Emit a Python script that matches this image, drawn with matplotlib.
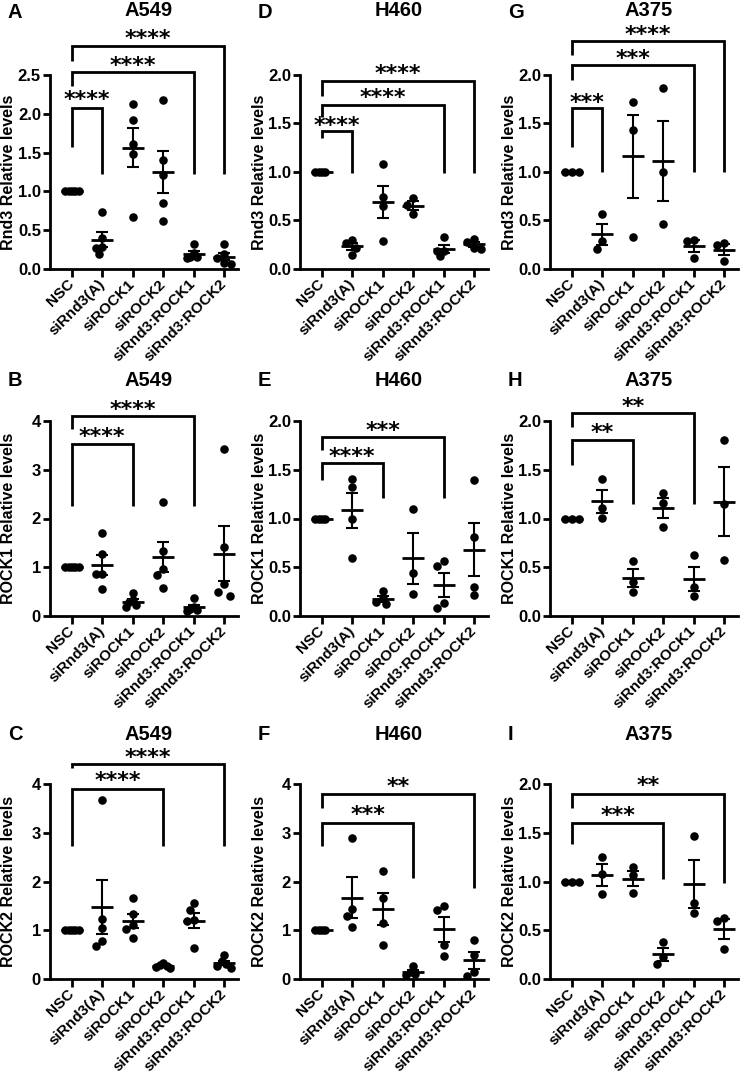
import numpy as np
import matplotlib
matplotlib.use("Agg")
import matplotlib.pyplot as plt

plt.rcParams['font.family'] = ['Liberation Sans', 'DejaVu Sans']
plt.rcParams['font.weight'] = 'bold'

categories = ["NSC", "siRnd3(A)", "siROCK1", "siROCK2", "siRnd3:ROCK1", "siRnd3:ROCK2"]

# ---- data (relative levels, one list per group) ----
A_rnd3_a549 = [[1, 1, 1, 1, 1], [0.74, 0.40, 0.28, 0.27, 0.19], [2.13, 1.92, 1.61, 1.48, 0.67],
               [2.18, 1.40, 1.21, 0.85, 0.62], [0.32, 0.20, 0.16, 0.15, 0.14], [0.32, 0.19, 0.14, 0.08, 0.07]]
D_rnd3_h460 = [[1, 1, 1, 1], [0.30, 0.27, 0.22, 0.14], [1.08, 0.74, 0.65, 0.29],
               [0.73, 0.66, 0.57], [0.33, 0.19, 0.19, 0.13], [0.31, 0.28, 0.22, 0.21]]
G_rnd3_a375 = [[1, 1, 1], [0.57, 0.29, 0.21], [1.72, 1.43, 0.33],
               [1.87, 1.00, 0.46], [0.30, 0.29, 0.11], [0.27, 0.245, 0.085]]
B_rock1_a549 = [[1, 1, 1, 1, 1], [1.70, 1.27, 0.86, 0.86, 0.55], [0.48, 0.32, 0.28, 0.22, 0.18],
                [2.33, 1.34, 0.97, 0.84, 0.57], [0.36, 0.18, 0.14, 0.12, 0.10], [3.42, 1.42, 0.65, 0.50, 0.41]]
E_rock1_h460 = [[1, 1, 1, 1], [1.41, 1.32, 1.00, 0.60], [0.26, 0.18, 0.14, 0.12],
                [1.10, 0.44, 0.23], [0.56, 0.51, 0.13, 0.08], [1.39, 0.81, 0.30, 0.22]]
H_rock1_a375 = [[1, 1, 1], [1.405, 1.11, 1.01], [0.56, 0.35, 0.25],
                [1.26, 1.16, 0.91], [0.63, 0.30, 0.21], [1.80, 1.145, 0.576]]
C_rock2_a549 = [[1, 1, 1, 1, 1], [3.67, 1.23, 1.04, 0.78, 0.68], [1.66, 1.33, 1.10, 1.02, 0.84],
                [0.33, 0.29, 0.27, 0.24, 0.22], [1.56, 1.41, 1.21, 1.18, 0.64], [0.50, 0.36, 0.30, 0.27, 0.22]]
F_rock2_h460 = [[1, 1, 1, 1], [2.90, 1.43, 1.29, 1.06], [2.22, 1.66, 1.14, 0.70],
                [0.27, 0.15, 0.10, 0.08], [1.50, 1.41, 0.70, 0.48], [0.80, 0.50, 0.15, 0.07]]
I_rock2_a375 = [[1, 1, 1], [1.25, 1.08, 0.87], [1.145, 1.065, 0.88],
                [0.38, 0.23, 0.15], [1.47, 0.78, 0.68], [0.625, 0.60, 0.31]]

# significance brackets: (group1, group2, y_top, y_left_end, y_right_end, label, y_label)
A_sig = [(0, 1, 2.08, 1.57, 1.23, '****', 2.26), (0, 4, 2.54, 2.36, 1.23, '****', 2.69),
         (0, 5, 2.88, 2.68, 1.23, '****', 3.04)]
D_sig = [(0, 1, 1.425, 1.35, 0.99, '****', 1.54), (0, 4, 1.69, 1.57, 0.99, '****', 1.83),
         (0, 5, 1.94, 1.78, 0.99, '****', 2.07)]
G_sig = [(0, 1, 1.66, 1.26, 1.0, '***', 1.78), (0, 4, 2.10, 1.95, 1.0, '***', 2.23),
         (0, 5, 2.35, 2.21, 1.0, '****', 2.48)]
B_sig = [(0, 2, 3.53, 2.26, 2.26, '****', 3.79), (0, 4, 4.11, 3.84, 2.26, '****', 4.35)]
E_sig = [(0, 2, 1.565, 1.40, 1.21, '****', 1.69), (0, 4, 1.84, 1.70, 1.21, '***', 1.96)]
H_sig = [(0, 2, 1.80, 1.55, 1.15, '**', 1.94), (0, 4, 2.085, 1.94, 1.15, '**', 2.21)]
C_sig = [(0, 3, 3.90, 2.73, 2.73, '****', 4.19), (0, 5, 4.41, 4.32, 2.73, '****', 4.66)]
F_sig = [(0, 3, 3.21, 2.73, 2.07, '***', 3.49), (0, 5, 3.79, 3.50, 1.86, '**', 4.07)]
I_sig = [(0, 3, 1.595, 1.38, 1.03, '***', 1.74), (0, 5, 1.90, 1.75, 0.98, '**', 2.04)]

panels = [
    # letter, title, ylabel, ymax, step, data, sig, col, row
    ("A", "A549", "Rnd3 Relative levels", 2.5, 0.5, A_rnd3_a549, A_sig, 0, 0),
    ("D", "H460", "Rnd3 Relative levels", 2.0, 0.5, D_rnd3_h460, D_sig, 1, 0),
    ("G", "A375", "Rnd3 Relative levels", 2.0, 0.5, G_rnd3_a375, G_sig, 2, 0),
    ("B", "A549", "ROCK1 Relative levels", 4, 1, B_rock1_a549, B_sig, 0, 1),
    ("E", "H460", "ROCK1 Relative levels", 2.0, 0.5, E_rock1_h460, E_sig, 1, 1),
    ("H", "A375", "ROCK1 Relative levels", 2.0, 0.5, H_rock1_a375, H_sig, 2, 1),
    ("C", "A549", "ROCK2 Relative levels", 4, 1, C_rock2_a549, C_sig, 0, 2),
    ("F", "H460", "ROCK2 Relative levels", 4, 1, F_rock2_h460, F_sig, 1, 2),
    ("I", "A375", "ROCK2 Relative levels", 2.0, 0.5, I_rock2_a375, I_sig, 2, 2),
]

W, H = 750, 1075
fig = plt.figure(figsize=(W / 100, H / 100), dpi=100)

col_left = [50, 300, 550]
ax_w = 188
row_tb = [(75, 269), (421, 616), (784, 979)]
title_y = [11, 380, 734]
LW = 2.0


def swarm_offsets(ax, x, vals, diam=7.8, step=5.8, max_half=6.8):
    vals = np.asarray(vals, float)
    ypx = ax.transData.transform(np.column_stack([np.full(len(vals), x), vals]))[:, 1]
    order = np.argsort(-vals, kind='stable')
    placed = []
    offs = np.zeros(len(vals))
    cands = [0.0]
    for m in range(1, 12):
        cands += [-m * step, m * step]
    for i in order:
        y = ypx[i]
        chosen = cands[-1]
        for c in cands:
            if all((c - dx) ** 2 + (y - py) ** 2 >= diam ** 2 for dx, py in placed):
                chosen = c
                break
        placed.append((chosen, y))
        offs[i] = chosen
    m = np.max(np.abs(offs))
    if m > max_half:
        offs *= max_half / m
    p0 = ax.transData.transform([[0, 0], [1, 0]])
    ppd = p0[1, 0] - p0[0, 0]
    return offs / ppd


for letter, title, ylabel, ymax, step, data, sig, col, row in panels:
    top, bot = row_tb[row]
    left = col_left[col]
    ax = fig.add_axes([left / W, 1 - bot / H, ax_w / W, (bot - top) / H])
    ax.set_xlim(-0.72, 5.46)
    ax.set_ylim(0, ymax)
    for s in ['top', 'right']:
        ax.spines[s].set_visible(False)
    for s in ['left', 'bottom']:
        ax.spines[s].set_linewidth(LW)
    ticks = np.arange(0, ymax + 1e-9, step)
    ax.set_yticks(ticks)
    if step < 1:
        ax.set_yticklabels([f"{t:.1f}" for t in ticks], fontsize=12, fontweight='bold')
    else:
        ax.set_yticklabels([f"{int(t)}" for t in ticks], fontsize=12, fontweight='bold')
    ax.set_xticks(range(len(categories)))
    ax.set_xticklabels(categories, rotation=45, ha='right', va='center',
                       rotation_mode='anchor', fontsize=11, fontweight='bold')
    ax.tick_params(axis='y', width=LW, length=5, pad=1.5)
    ax.tick_params(axis='x', width=LW, length=5.8, pad=3.5)

    for gi, vals in enumerate(data):
        vals = np.asarray(vals, float)
        dx = swarm_offsets(ax, gi, vals)
        ax.scatter(gi + dx, vals, s=38, color='black', zorder=3, linewidths=0)
        mean = vals.mean()
        sem = vals.std(ddof=1) / np.sqrt(len(vals))
        ax.plot([gi - 0.36, gi + 0.36], [mean, mean], color='black', lw=LW, zorder=4,
                solid_capstyle='butt')
        ax.errorbar(gi, mean, yerr=sem, fmt='none', ecolor='black', elinewidth=1.5,
                    capsize=4.3, capthick=1.5, zorder=4)

    for g1, g2, ytop, yl, yr, lab, ylab in sig:
        ax.plot([g1, g1, g2, g2], [yl, ytop, ytop, yr], color='black', lw=LW,
                clip_on=False, solid_joinstyle='miter', solid_capstyle='butt', zorder=5)
        fs = 16
        ax.annotate(lab, xy=((g1 + g2) / 2, ylab), xytext=(0, -fs * 0.55),
                    textcoords='offset points', ha='center', va='baseline',
                    fontsize=fs, fontweight='bold', family='DejaVu Sans',
                    annotation_clip=False)

    fig.text((left + 99) / W, 1 - title_y[row] / H, title, ha='center', va='center',
             fontsize=14.5, fontweight='bold')
    fig.text((left - 42) / W, 1 - (title_y[row] + 1) / H, letter, ha='left', va='center',
             fontsize=14.5, fontweight='bold')
    fig.text((left - 41) / W, 1 - ((top + bot) / 2) / H, ylabel, rotation=90,
             ha='center', va='center', fontsize=11.5, fontweight='bold')

fig.savefig("out.png", dpi=100)
